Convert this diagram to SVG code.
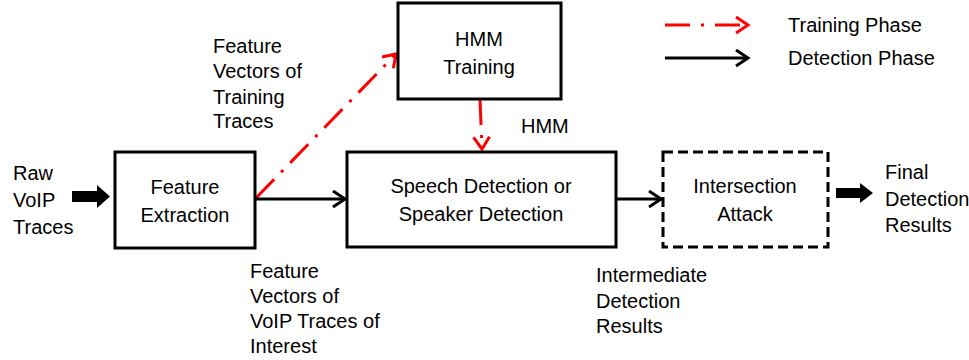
<svg xmlns="http://www.w3.org/2000/svg" width="969" height="360" viewBox="0 0 969 360">
<defs>
<style>
.box{fill:#fff;stroke:#000;stroke-width:3}
.dbox{fill:#fff;stroke:#000;stroke-width:3;stroke-dasharray:10 5}
text{font-family:"Liberation Sans",Arial,sans-serif;font-size:20px;fill:#000}
.c{text-anchor:middle}
.blk{fill:none;stroke:#000;stroke-width:3}
.red{fill:none;stroke:#f00;stroke-width:3;stroke-dasharray:26 10 3 10}
.fat{fill:#000;stroke:none}
</style>
<marker id="ab" markerWidth="16" markerHeight="20" refX="13" refY="9" orient="auto" markerUnits="userSpaceOnUse">
<path d="M1,1 L13,9 L1,17" fill="none" stroke="#000" stroke-width="3"/>
</marker>
<marker id="ar" markerWidth="16" markerHeight="20" refX="13" refY="9" orient="auto" markerUnits="userSpaceOnUse">
<path d="M1,1 L13,9 L1,17" fill="none" stroke="#f00" stroke-width="3"/>
</marker>
</defs>
<rect width="969" height="360" fill="#fff"/>

<g id="connectors">
<line class="red" x1="256" y1="198" x2="396" y2="54" marker-end="url(#ar)"/>
<line class="red" x1="480" y1="99" x2="482" y2="149" marker-end="url(#ar)"/>
<line class="blk" x1="255" y1="199" x2="345" y2="199" marker-end="url(#ab)"/>
<line class="blk" x1="616" y1="199" x2="661" y2="199" marker-end="url(#ab)"/>
<polygon class="fat" points="72,191 97,191 97,185 110,196.5 97,208 97,202 72,202"/>
<polygon class="fat" points="836,188 860,188 860,183 873,193 860,203 860,198 836,198"/>
</g>

<g id="legend">
<line x1="665" y1="25" x2="748" y2="25" stroke="#f00" stroke-width="3" stroke-dasharray="25 11 3 11" marker-end="url(#ar)"/>
<line x1="665" y1="58" x2="748" y2="58" stroke="#000" stroke-width="3" marker-end="url(#ab)"/>
<text x="788" y="32">Training Phase</text>
<text x="788" y="65">Detection Phase</text>
</g>

<g id="raw">
<text x="13" y="180">Raw</text>
<text x="13" y="207">VoIP</text>
<text x="13" y="234">Traces</text>
</g>

<g id="feature-extraction">
<rect class="box" x="115" y="152" width="140" height="96"/>
<text class="c" x="185" y="194">Feature</text>
<text class="c" x="185" y="222">Extraction</text>
</g>

<g id="hmm-training">
<rect class="box" x="398" y="3" width="163" height="96"/>
<text class="c" x="479" y="46">HMM</text>
<text class="c" x="479" y="74">Training</text>
</g>

<g id="speech-detection">
<rect class="box" x="347" y="152" width="269" height="95"/>
<text class="c" x="481" y="193">Speech Detection or</text>
<text class="c" x="481" y="221">Speaker Detection</text>
</g>

<g id="intersection-attack">
<rect class="dbox" x="663" y="152" width="165" height="95"/>
<text class="c" x="745" y="193">Intersection</text>
<text class="c" x="745" y="221">Attack</text>
</g>

<g id="final">
<text x="885" y="179">Final</text>
<text x="885" y="206">Detection</text>
<text x="885" y="232">Results</text>
</g>

<g id="labels">
<text x="213" y="53">Feature</text>
<text x="213" y="78">Vectors of</text>
<text x="213" y="104">Training</text>
<text x="213" y="128">Traces</text>
<text x="521" y="133">HMM</text>
<text x="250" y="278">Feature</text>
<text x="250" y="303">Vectors of</text>
<text x="250" y="328">VoIP Traces of</text>
<text x="250" y="353">Interest</text>
<text x="596" y="282">Intermediate</text>
<text x="596" y="308">Detection</text>
<text x="596" y="333">Results</text>
</g>
</svg>
